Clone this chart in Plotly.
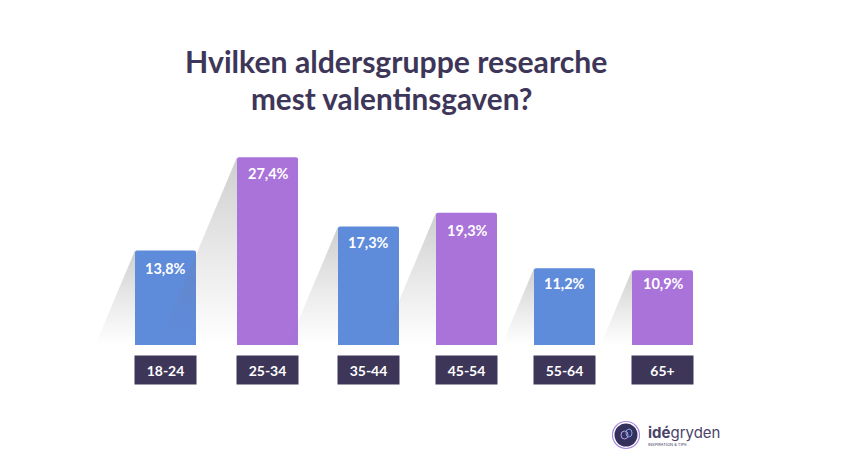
import plotly.graph_objects as go

categories = ["18-24", "25-34", "35-44", "45-54", "55-64", "65+"]
values = [13.8, 27.4, 17.3, 19.3, 11.2, 10.9]
value_labels = ["13,8%", "27,4%", "17,3%", "19,3%", "11,2%", "10,9%"]
slots = [165.5, 267.5, 368.5, 466.5, 564.5, 662.5]
label_drop = [18.5, 16.5, 15.5, 17.5, 15.5, 13.5]
label_nudge = [-0.5, 0.5, 0, 0.5, -0.5, 1]
BLUE, PURPLE, DARK = "#5f8bdb", "#a973d9", "#3e3659"
bar_colors = [BLUE, PURPLE, BLUE, PURPLE, BLUE, PURPLE]

W, H = 841, 461
BAR_W = 61
UNIT = 6.85          # px per percentage point
BASE_PX = 345
Y_TOP = BASE_PX / UNIT
Y_BOT = -(H - BASE_PX) / UNIT
SLANT = 0.42
FONT = "Lato, 'Open Sans', sans-serif"


def py(px):
    """Pixel row of the canvas expressed in axis units (for text placement)."""
    return (BASE_PX - px) / UNIT


fig = go.Figure()

fig.add_trace(go.Bar(x=slots, y=values, width=BAR_W, marker=dict(color=bar_colors, line_width=0, cornerradius=2),
                     hoverinfo="skip", showlegend=False))

# slanted gradient shadows behind each bar
for cx, v in zip(slots, values):
    left = cx - BAR_W / 2
    reach = v * UNIT * SLANT
    fig.add_trace(go.Scatter(
        x=[left, left, left - reach, left], y=[v, 0, 0, v], mode="lines", line_width=0,
        fill="toself", hoverinfo="skip", showlegend=False,
        fillgradient=dict(type="vertical", start=v, stop=0,
                          colorscale=[[0, "rgba(120,120,120,0.36)"], [0.55, "rgba(120,120,120,0.15)"], [1, "rgba(120,120,120,0)"]]),
    ))

ann = []
for cx, v, lab, cat, drop, nudge in zip(slots, values, value_labels, categories, label_drop, label_nudge):
    ann.append(dict(x=cx + nudge, y=v, yshift=-drop, text=f"<b>{lab}</b>", showarrow=False,
                    font=dict(family=FONT, size=14.5, color="white")))
    ann.append(dict(x=cx, y=py(370), text=f"<b>{cat}</b>", showarrow=False,
                    width=BAR_W, height=28, borderpad=0, bgcolor=DARK,
                    font=dict(family=FONT, size=14, color="white")))

ann += [
    dict(x=395.5, y=py(60.5), text="<b>Hvilken aldersgruppe researche</b>", showarrow=False,
         font=dict(family=FONT, size=30.2, color=DARK)),
    dict(x=391.5, y=py(98.5), text="<b>mest valentinsgaven?</b>", showarrow=False,
         font=dict(family=FONT, size=29.7, color=DARK)),
    dict(x=646, y=py(432), xanchor="left", text="<b>idé</b>gryden", showarrow=False,
         font=dict(family="Inter, 'Open Sans', sans-serif", size=15, color="#4a4468")),
    dict(x=646, y=py(444), xanchor="left", text="INSPIRATION &amp; TIPS", showarrow=False,
         font=dict(family="Inter, 'Open Sans', sans-serif", size=4, color=DARK)),
]

logo_c = (626, 435)
shapes = [
    dict(type="circle", xref="x", yref="paper", x0=logo_c[0] - 13.5, x1=logo_c[0] + 13.5,
         y0=1 - (logo_c[1] + 13.5) / H, y1=1 - (logo_c[1] - 13.5) / H,
         line=dict(color="#a98be0", width=1.2), fillcolor="white", layer="above"),
    dict(type="circle", xref="x", yref="paper", x0=logo_c[0] - 11.5, x1=logo_c[0] + 11.5,
         y0=1 - (logo_c[1] + 11.5) / H, y1=1 - (logo_c[1] - 11.5) / H,
         line_width=0, fillcolor="#33305c", layer="above"),
    dict(type="circle", xref="x", yref="paper", x0=logo_c[0] - 5, x1=logo_c[0] + 2,
         y0=1 - (logo_c[1] + 4) / H, y1=1 - (logo_c[1] - 4) / H,
         line=dict(color="#b9a2ea", width=1), fillcolor="rgba(0,0,0,0)", layer="above"),
    dict(type="circle", xref="x", yref="paper", x0=logo_c[0], x1=logo_c[0] + 6,
         y0=1 - (logo_c[1] + 2) / H, y1=1 - (logo_c[1] - 6) / H,
         line=dict(color="#7fa0e8", width=1), fillcolor="rgba(0,0,0,0)", layer="above"),
]

fig.update_layout(
    width=W, height=H, autosize=False, margin=dict(l=0, r=0, t=0, b=0),
    paper_bgcolor="white", plot_bgcolor="white", showlegend=False,
    xaxis=dict(range=[0, W], visible=False, fixedrange=True),
    yaxis=dict(range=[Y_BOT, Y_TOP], visible=False, fixedrange=True),
    annotations=ann, shapes=shapes,
)
fig.write_html("out.html", config={"displayModeBar": False},
               post_script="document.body.style.margin='0';")
